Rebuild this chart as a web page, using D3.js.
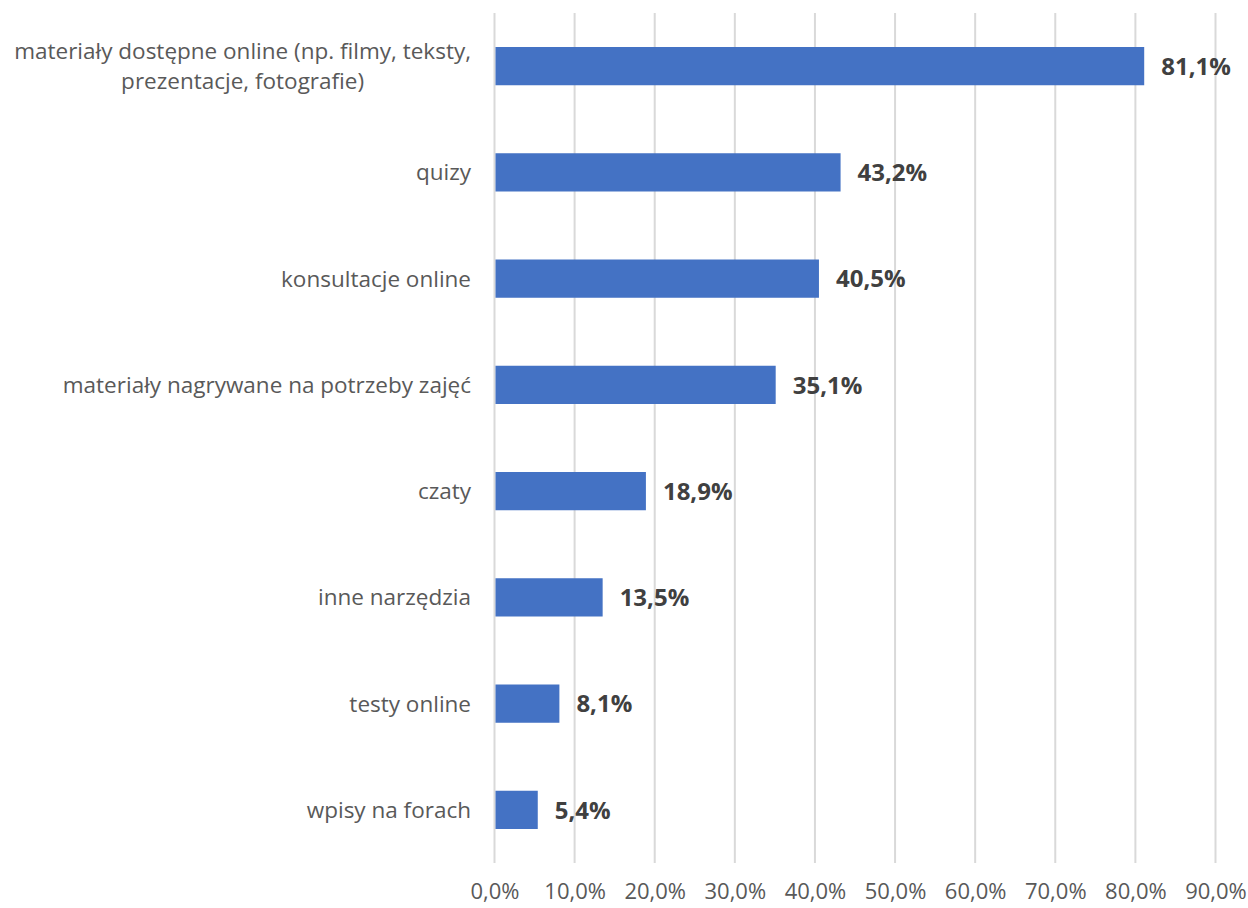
<!DOCTYPE html>
<html>
<head>
<meta charset="utf-8">
<script src="https://cdn.jsdelivr.net/npm/d3@7"></script>
<style>
  html, body { margin: 0; padding: 0; background: #ffffff; }
  svg { display: block; }
</style>
</head>
<body>
<svg id="chart" width="1248" height="908"></svg>
<script>
// Categories (top to bottom) and their shares in percent
const categories = [
  ["materiały dostępne online (np. filmy, teksty,", "prezentacje, fotografie)"],
  ["quizy"],
  ["konsultacje online"],
  ["materiały nagrywane na potrzeby zajęć"],
  ["czaty"],
  ["inne narzędzia"],
  ["testy online"],
  ["wpisy na forach"]
];
const values = [81.1, 43.2, 40.5, 35.1, 18.9, 13.5, 8.1, 5.4];
const ticks = [0, 10, 20, 30, 40, 50, 60, 70, 80, 90];

const fmt = v => v.toFixed(1).replace(".", ",") + "%";

const svg = d3.select("#chart");
const margin = { left: 494.5, right: 32.5, top: 13, bottom: 45 };
const W = 1248, H = 908;

const x = d3.scaleLinear().domain([0, 90]).range([margin.left, W - margin.right]);
const y = d3.scaleBand()
  .domain(d3.range(categories.length))
  .range([margin.top, H - margin.bottom])
  .paddingInner(0.64)
  .paddingOuter(0.32);

const font = "'Open Sans', 'Noto Sans', sans-serif";

// vertical gridlines
svg.append("g")
  .selectAll("line")
  .data(ticks)
  .join("line")
  .attr("x1", d => x(d)).attr("x2", d => x(d))
  .attr("y1", margin.top).attr("y2", H - margin.bottom)
  .attr("stroke", "#d9d9d9")
  .attr("stroke-width", 2);

// x axis tick labels
const xAxis = d3.axisBottom(x).tickValues(ticks).tickFormat(fmt).tickSize(0).tickPadding(0);
const gx = svg.append("g")
  .attr("transform", `translate(0,${H - margin.bottom})`)
  .call(xAxis);
gx.select(".domain").remove();
gx.selectAll("text")
  .attr("y", 36)
  .attr("dy", 0)
  .attr("fill", "#595959")
  .style("font-family", font)
  .style("font-size", "22px");

// bars
svg.append("g")
  .selectAll("rect")
  .data(values)
  .join("rect")
  .attr("x", x(0) + 1)
  .attr("y", (d, i) => y(i))
  .attr("width", d => x(d) - x(0) - 1)
  .attr("height", y.bandwidth())
  .attr("fill", "#4472c4");

// value labels
svg.append("g")
  .selectAll("text")
  .data(values)
  .join("text")
  .attr("x", d => x(d) + 17)
  .attr("y", (d, i) => y(i) + y.bandwidth() / 2)
  .attr("dy", "0.36em")
  .attr("fill", "#404040")
  .style("font-family", font)
  .style("font-size", "24px")
  .style("font-weight", "bold")
  .text(fmt);

// category labels
const lineH = 30;
const cat = svg.append("g")
  .selectAll("text")
  .data(categories)
  .join("text")
  .attr("text-anchor", "middle")
  .attr("fill", "#595959")
  .style("font-family", font)
  .style("font-size", "22.5px");

cat.each(function(lines, i) {
  const t = d3.select(this);
  const cy = y(i) + y.bandwidth() / 2;
  const y0 = cy - (lines.length - 1) * lineH / 2;
  lines.forEach((ln, k) => {
    t.append("tspan")
      .attr("y", y0 + k * lineH)
      .attr("dy", "0.36em")
      .text(ln);
  });
});

// right-align each block at the axis; multi-line blocks are centred within their widest line
const rightEdge = 471;
cat.each(function() {
  const t = d3.select(this);
  const spans = t.selectAll("tspan").nodes();
  const widest = d3.max(spans, s => s.getComputedTextLength());
  const cx = rightEdge - widest / 2;
  t.selectAll("tspan").attr("x", cx);
});
</script>
</body>
</html>
